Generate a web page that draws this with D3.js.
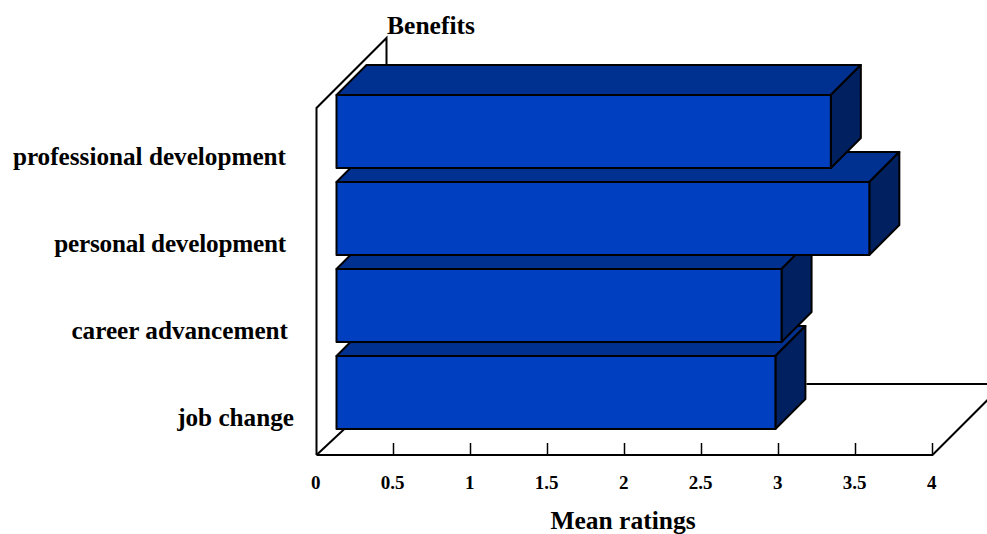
<!DOCTYPE html>
<html>
<head>
<meta charset="utf-8">
<script src="https://cdnjs.cloudflare.com/ajax/libs/d3/7.8.5/d3.min.js"></script>
<style>
html,body{margin:0;padding:0;background:#fff;overflow:hidden}
svg{display:block}
text{font-family:"Liberation Serif","Times New Roman",serif;font-weight:bold;fill:#000}
</style>
</head>
<body>
<svg id="chart" width="987" height="534"></svg>
<script>
// Mean ratings per benefit, listed top row first
const categories = ["professional development","personal development","career advancement","job change"];
const meanRatings = [3.21,3.46,2.89,2.85];
const xTicks = [0,0.5,1,1.5,2,2.5,3,3.5,4];
const xTitle = "Mean ratings";
const yTitle = "Benefits";

const svg = d3.select("#chart");
const x = d3.scaleLinear().domain([0,4]).range([316.5,932.5]);
const y = d3.scaleBand().domain(categories).range([95,429]).paddingInner(0.16);

// Projection of the chart box: wall/floor depth and bar depth
const wallDepth = 70, barDepth = 30, barInsetX = 20;
const floorY = 455, wallTop = 108;
const line = (pts) => svg.append("polyline").attr("points",pts.map(p=>p.join(",")).join(" "))
  .attr("stroke","#000").attr("stroke-width",2).attr("fill","none").attr("stroke-linejoin","miter");

// Left wall and floor outline
line([[x(0),floorY],[x(0),wallTop],[x(0)+wallDepth,wallTop-wallDepth],[x(0)+wallDepth,wallTop-wallDepth+30]]);
line([[x(0)+wallDepth+420,floorY-wallDepth-1],[x(4)+wallDepth,floorY-wallDepth-1]]);
line([[x(0),floorY],[x(4),floorY],[x(4)+wallDepth,floorY-wallDepth]]);
line([[x(0),floorY],[x(0)+30,floorY-28]]);

// Tick marks along the front edge of the floor
svg.append("g").selectAll("line").data(xTicks.slice(1)).join("line")
  .attr("x1",d=>x(d)).attr("x2",d=>x(d)).attr("y1",floorY).attr("y2",floorY-12)
  .attr("stroke","#000").attr("stroke-width",1.5);

// Boxes are painted bottom row first so upper rows overlap lower ones
const rows = categories.map((c,i)=>({c,v:meanRatings[i]})).reverse();
const poly = (g,pts,fill)=>g.append("polygon").attr("points",pts.map(p=>p.join(",")).join(" "))
  .attr("fill",fill).attr("stroke","#000").attr("stroke-width",2).attr("stroke-linejoin","round");
rows.forEach(r=>{
  const g = svg.append("g");
  const l = x(0)+barInsetX, R = x(r.v)+barInsetX, t = y(r.c), b = t+y.bandwidth();
  poly(g,[[l,t],[l+barDepth,t-barDepth],[R+barDepth,t-barDepth],[R,t]],"#003090");
  poly(g,[[R,t],[R+barDepth,t-barDepth],[R+barDepth,b-barDepth],[R,b]],"#002060");
  poly(g,[[l,t],[R,t],[R,b],[l,b]],"#0040c0");
});

// Category labels, with the small per-row shift of their right edges
const labelShift = [0,0,2,8];
const labelTracking = [0,-0.2,0,0];
svg.append("g").selectAll("text").data(categories).join("text")
  .attr("x",(d,i)=>286+labelShift[i])
  .attr("y",d=>y(d)+y.bandwidth()/2+24.6)
  .attr("dy","0.35em").attr("text-anchor","end")
  .attr("letter-spacing",(d,i)=>labelTracking[i])
  .attr("font-size",25.2).text(d=>d);

// Value axis labels
svg.append("g").selectAll("text").data(xTicks).join("text")
  .attr("x",d=>x(d)-0.8).attr("y",482.5).attr("dy","0.35em").attr("text-anchor","middle")
  .attr("font-size",19).text(d=>d);

svg.append("text").attr("x",623).attr("y",520.5).attr("dy","0.35em").attr("text-anchor","middle")
  .attr("font-size",25.5).text(xTitle);
svg.append("text").attr("x",431).attr("y",25).attr("dy","0.35em").attr("text-anchor","middle")
  .attr("font-size",25.5).text(yTitle);
</script>
</body>
</html>
